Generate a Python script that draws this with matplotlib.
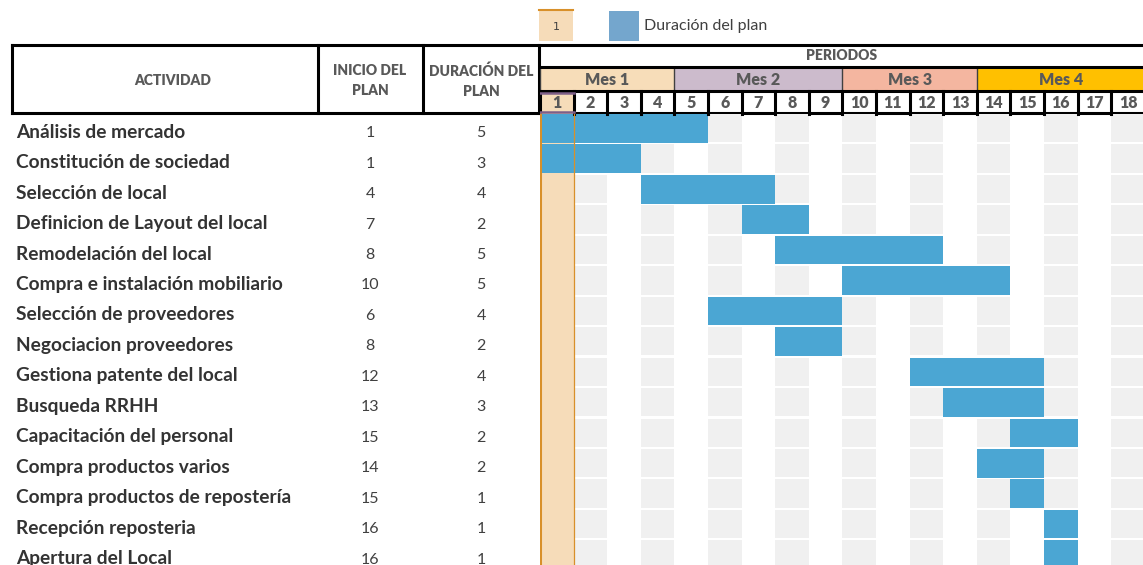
import matplotlib
matplotlib.use("Agg")
import matplotlib.pyplot as plt
from matplotlib.patches import Rectangle

plt.rcParams["font.family"] = ["Lato", "DejaVu Sans"]

# --- datos del cronograma ---
ACTIVIDADES = ["Análisis de mercado", "Constitución de sociedad", "Selección de local",
               "Definicion de Layout del local", "Remodelación del local",
               "Compra e instalación mobiliario", "Selección de proveedores",
               "Negociacion proveedores", "Gestiona patente del local", "Busqueda RRHH",
               "Capacitación del personal", "Compra productos varios",
               "Compra productos de repostería", "Recepción reposteria", "Apertura del Local"]
INICIO   = [1, 1, 4, 7, 8, 10, 6, 8, 12, 13, 15, 14, 15, 16, 16]
DURACION = [5, 3, 4, 2, 5, 5, 4, 2, 4, 3, 2, 2, 1, 1, 1]
PERIODOS = list(range(1, 19))
MESES     = ["Mes 1", "Mes 2", "Mes 3", "Mes 4"]
MES_INI   = [1, 5, 10, 14]
MES_FIN   = [4, 9, 13, 18]
MES_COLOR = ["#F7DDB9", "#CCBBCC", "#F4B6A0", "#FFC000"]
PERIODO_ACTUAL = 1

# colores
AZUL = "#4BA6D3"; GRIS = "#F0F0F0"; DURAZNO = "#F6DCB9"; NARANJA = "#D8902A"
TXT = "#595959"; TXT_OSC = "#333333"

W, H = 1143, 565
X0, CW = 540, 33.6          # inicio de la zona de periodos y ancho de columna (px)
Y0, RH = 114, 30.45         # inicio de filas y alto de fila (px)
HDR = [45, 67, 91, 114]     # lineas del encabezado (px)

fig = plt.figure(figsize=(W / 100, H / 100), dpi=100)
base = fig.add_axes([0, 0, 1, 1]); base.set_xlim(0, W); base.set_ylim(H, 0); base.axis("off")
g = fig.add_axes([X0 / W, 0, 1 - X0 / W, 1])
g.set_xlim(1, 1 + (W - X0) / CW); g.set_ylim((H - Y0) / RH, -Y0 / RH); g.axis("off")

def ry(px): return (px - Y0) / RH
nfil = len(ACTIVIDADES)
xmax = g.get_xlim()[1]

# celdas grises alternadas (columnas pares)
for p in PERIODOS:
    if p % 2 == 0:
        for i in range(nfil):
            g.add_patch(Rectangle((p, i), 1, 0.93, color=GRIS, lw=0, zorder=1))
# columna del periodo actual
g.add_patch(Rectangle((PERIODO_ACTUAL, 0), 1, nfil, color=DURAZNO, lw=0, zorder=1))

# barras de duracion
g.barh(range(nfil), DURACION, left=INICIO, height=0.94, align="edge", color=AZUL, zorder=2)
g.axvline(PERIODO_ACTUAL, ymin=0, ymax=(H - Y0) / H, color=NARANJA, lw=2.2, zorder=4)
g.axvline(PERIODO_ACTUAL + 1, ymin=0, ymax=(H - Y0) / H, color=NARANJA, lw=0.9, zorder=4)

# encabezado de periodos
g.text((1 + xmax) / 2, ry((HDR[0] + HDR[1]) / 2), "PERIODOS", ha="center", va="center",
       fontsize=10, fontweight="heavy", color=TXT)
for m, a, b, c in zip(MESES, MES_INI, MES_FIN, MES_COLOR):
    g.add_patch(Rectangle((a, ry(HDR[1])), b - a + 1, ry(HDR[2]) - ry(HDR[1]), color=c, lw=0, zorder=1))
    g.text((a + b + 1) / 2, ry((HDR[1] + HDR[2]) / 2) + 0.03, m, ha="center", va="center",
           fontsize=11.5, fontweight="heavy", color=TXT)
    g.plot([a, a], [ry(HDR[1]), ry(HDR[2])], color="#404040", lw=1.0, zorder=3)
g.add_patch(Rectangle((PERIODO_ACTUAL, ry(HDR[2])), 1, ry(HDR[3]) - ry(HDR[2]),
                      color=DURAZNO, lw=0, zorder=1))
for p in PERIODOS:
    g.text(p + 0.5, ry((HDR[2] + HDR[3]) / 2) + 0.03, str(p), ha="center", va="center",
           fontsize=11.5, fontweight="heavy", color=TXT)
    g.plot([p, p], [ry(HDR[2]), ry(HDR[3])], color="black", lw=2.2, zorder=3)
for y in HDR[1:3]:
    g.axhline(ry(y), color="black", lw=2.2, zorder=3)
g.plot([PERIODO_ACTUAL, PERIODO_ACTUAL + 1], [ry(HDR[2]) + 0.05] * 2, color="#7E5F88", lw=1.8, zorder=4)
g.plot([PERIODO_ACTUAL, PERIODO_ACTUAL + 1], [ry(HDR[3]) - 0.05] * 2, color="#7E5F88", lw=1.8, zorder=4)

# tabla de actividades
for y in (HDR[0], HDR[3] - 1):
    base.plot([12, W], [y, y], color="black", lw=2.2, zorder=3)
for x in (12, 318, 423, 539):
    base.plot([x, x], [HDR[0], HDR[3] - 1], color="black", lw=2.2, zorder=3)
ym = (HDR[0] + HDR[3]) / 2 + 1
base.text(173, ym, "ACTIVIDAD", ha="center", va="center", fontsize=10, fontweight="heavy", color=TXT)
base.text(370, ym, "INICIO DEL\nPLAN", ha="center", va="center", fontsize=10,
          fontweight="heavy", color=TXT, linespacing=1.6)
base.text(481, ym, "DURACIÓN DEL\nPLAN", ha="center", va="center", fontsize=10,
          fontweight="heavy", color=TXT, linespacing=1.6)
for i, (act, ini, dur) in enumerate(zip(ACTIVIDADES, INICIO, DURACION)):
    yc = Y0 + (i + 0.5) * RH
    base.text(16, yc + 3, act, ha="left", va="center", fontsize=13.8, fontweight="bold", color=TXT_OSC)
    base.text(370, yc + 4, str(ini), ha="center", va="center", fontsize=11.5, color="#404040")
    base.text(481, yc + 4, str(dur), ha="center", va="center", fontsize=11.5, color="#404040")

# leyenda
base.add_patch(Rectangle((539, 10), 34, 31, color=DURAZNO, lw=0))
base.plot([539, 573], [10, 10], color=NARANJA, lw=1.5)
base.text(556, 27, "1", ha="center", va="center", fontsize=8, color="#404040", family="DejaVu Sans")
base.add_patch(Rectangle((609, 11), 30, 30, color="#74A6CD", lw=0))
base.text(644, 26, "Duración del plan", ha="left", va="center", fontsize=11.5, color="#404040")

fig.savefig("out.png", dpi=100)
